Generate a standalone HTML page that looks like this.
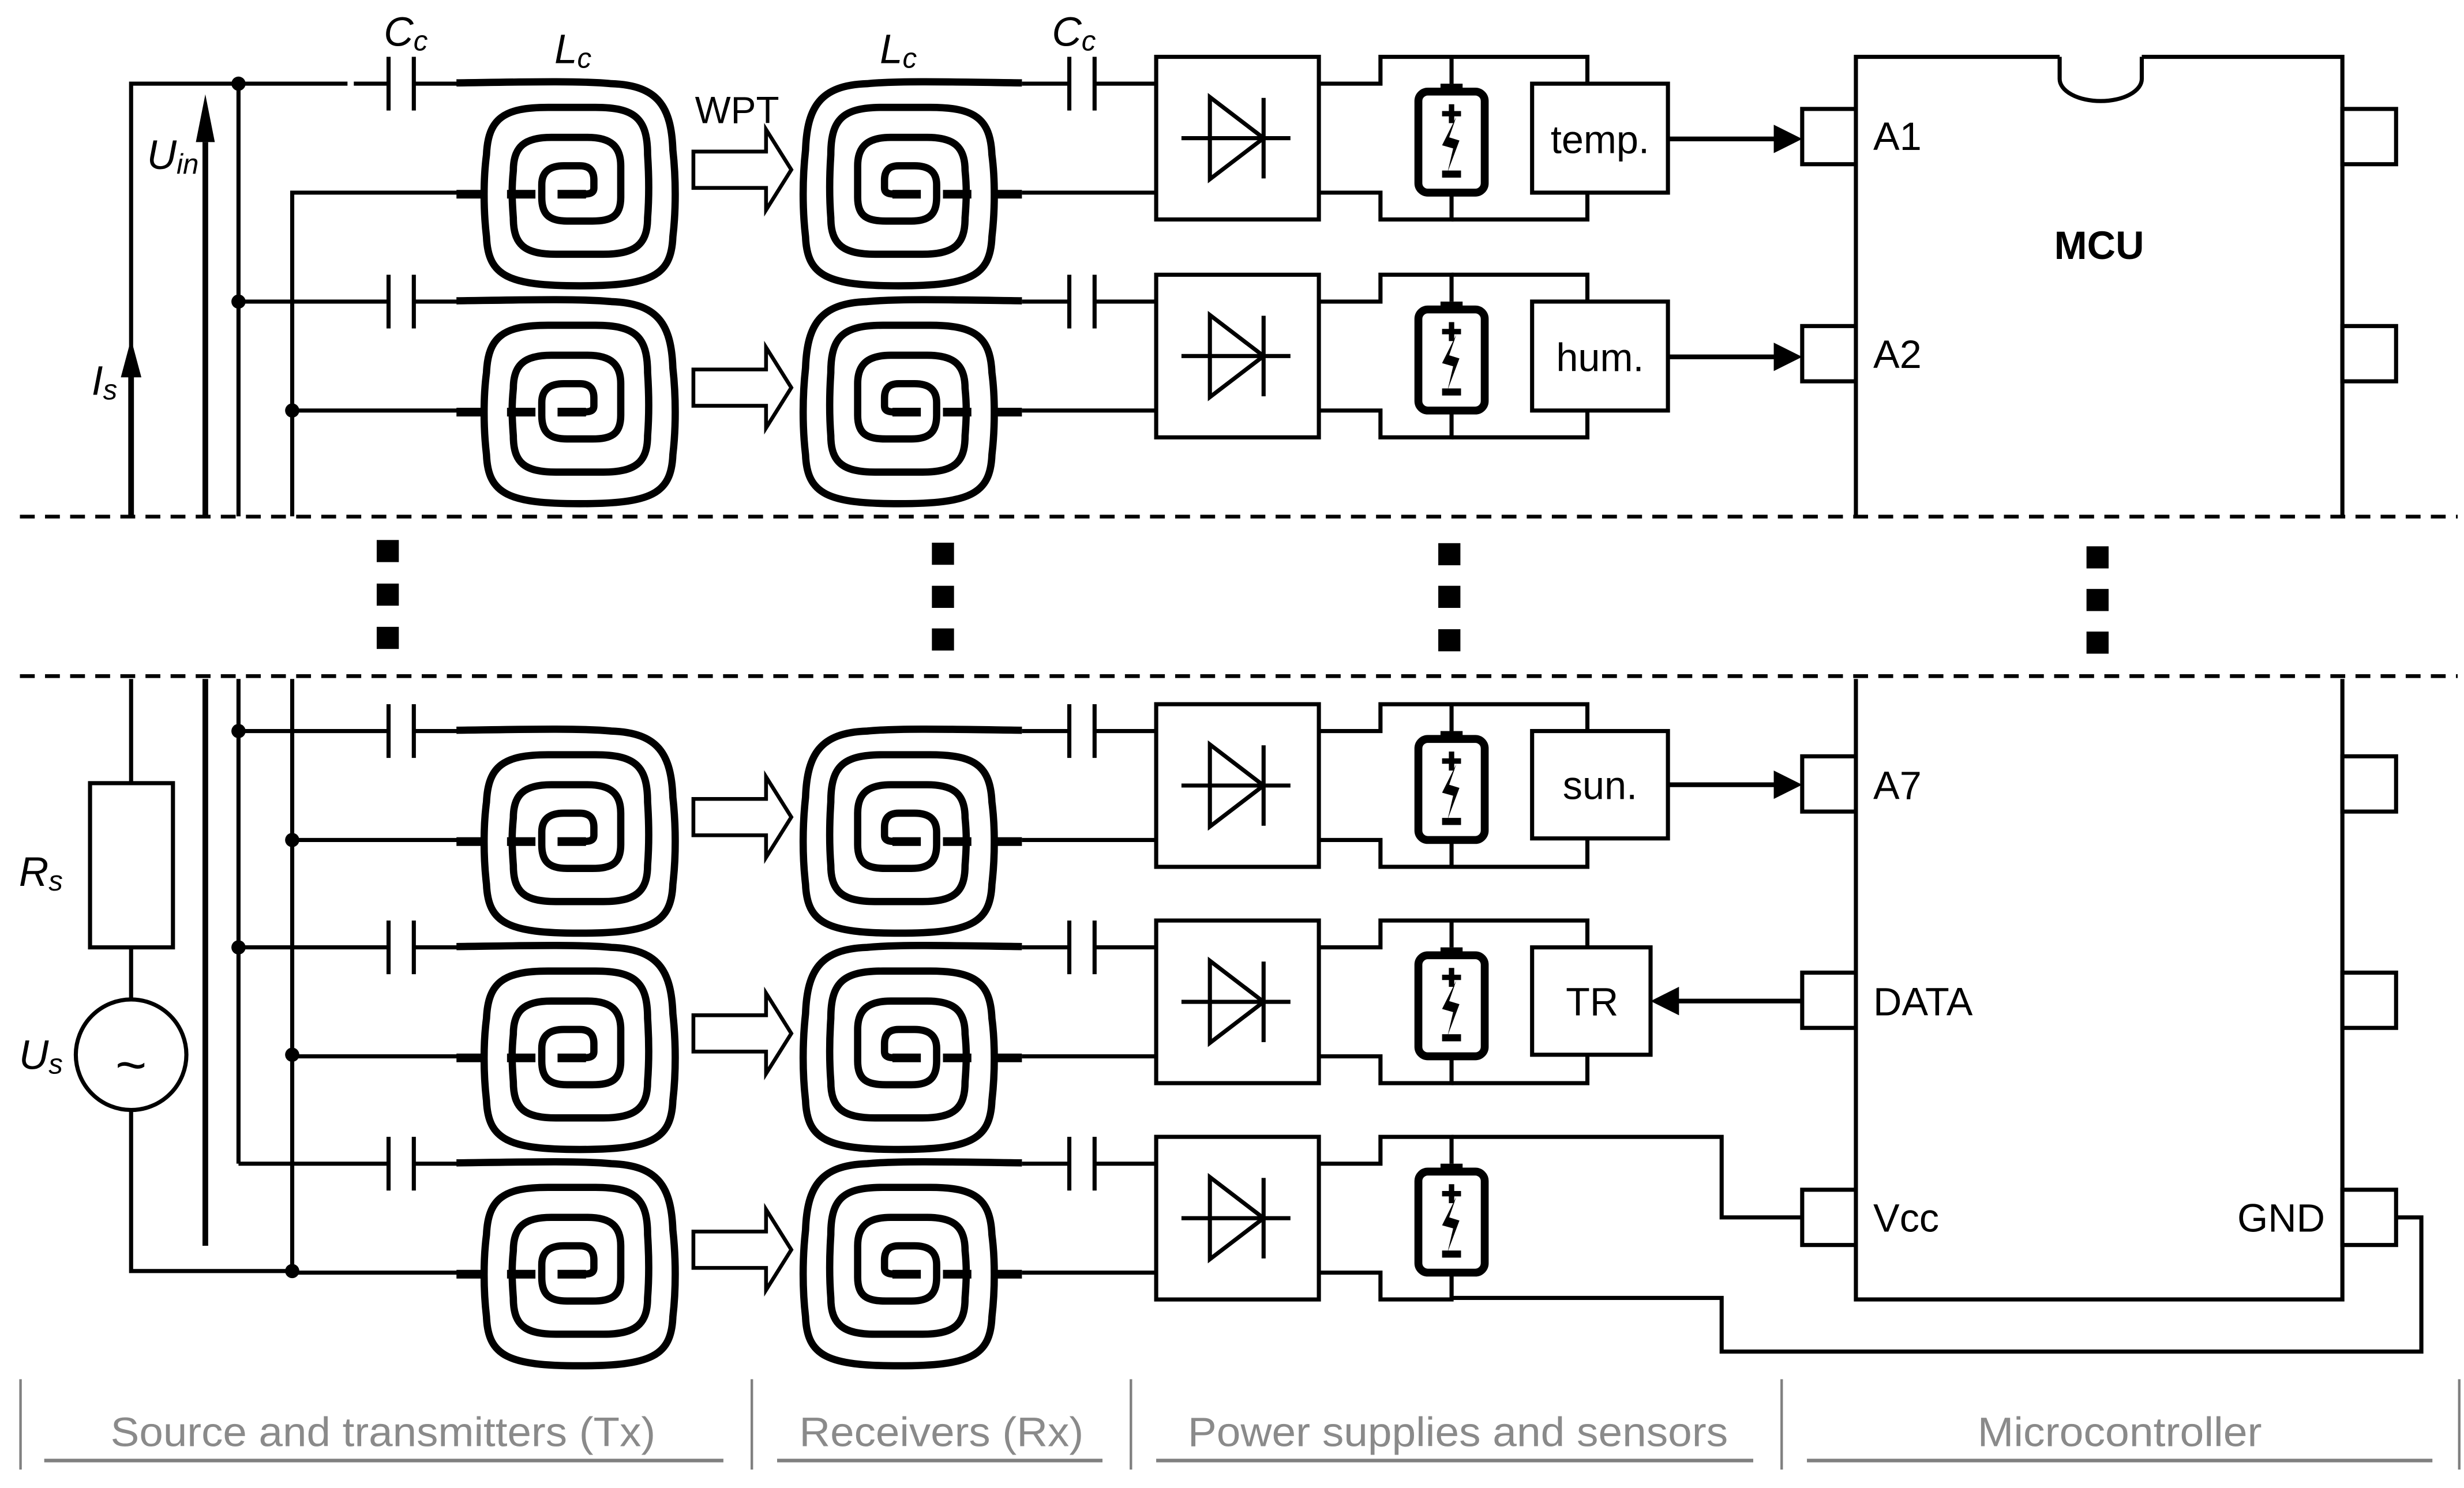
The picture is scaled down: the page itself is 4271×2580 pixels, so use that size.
<!DOCTYPE html>
<html><head><meta charset="utf-8"><style>html,body{margin:0;padding:0;background:#fff}svg{display:block}</style></head><body>
<svg xmlns="http://www.w3.org/2000/svg" width="4271" height="2580" viewBox="0 0 1560 942.4" preserveAspectRatio="none" font-family="Liberation Sans, Arial, sans-serif">
<defs>
<g id="coil" fill="none" stroke="#000" stroke-width="4.6" stroke-linecap="butt">
<path d="M-78,-0.5 C-40,-1 0,-2 20,0 C50,1 58,15 59,42 C61,60 61,80 59,97 C58,122 45,128 0,128 C-45,128 -58,122 -59,97 C-61,80 -61,60 -59,45 C-58,22 -48,15 -20,15 L10,15 C35,15 43,22 43,45 C44,60 44,72 43,85 C43,102 35,108 15,108 L-15,108 C-35,108 -42,102 -42,85 C-43,72 -43,65 -42,55 C-42,40 -35,34 -18,34 L5,34 C20,34 26,40 26,52 L26,72 C26,84 20,87 8,87 L-8,87 C-20,87 -24,82 -24,72 L-24,64 C-24,55 -18,52 -10,52 L0,52 C7,52 9,56 9,61 L9,66 C9,70 5,70 0,70 L-5,70"/>
<path d="M-14,70 H4 M-46,70 H-28 M-78,70 H-61" stroke-width="5.5"/>
</g>
<g id="row" fill="none" stroke="#000" stroke-width="2.6">
<path d="M151,0 H246 M262,0 H290 M185,69 H290"/>
<path d="M246,-17 V17 M262,-17 V17 M677,-17 V17 M693,-17 V17"/>
<use href="#coil" transform="translate(367,0)"/>
<use href="#coil" transform="translate(569,0) scale(-1,1)"/>
<polygon points="439,43 485,43 485,29 501,54.5 485,80 485,66 439,66" fill="#fff" stroke-width="2.4"/>
<path d="M647,0 H677 M693,0 H732 M647,69 H732"/>
<rect x="732" y="-17" width="103" height="103" fill="#fff"/>
<path d="M748,34.5 H817 M800,9 V60"/>
<polygon points="766,8.5 766,60.5 800,34.5"/>
<path d="M835,0 H874 V-17 H919 V0 M835,69 H874 V86 H919 V69"/>
<rect x="912" y="0" width="14" height="6" fill="#000" stroke="none"/>
<rect x="898" y="5" width="42" height="64" rx="6" stroke-width="5"/>
<path d="M913,19 H925 M919,13 V25" stroke-width="3.4"/>
<rect x="913" y="55" width="12" height="4.5" fill="#000" stroke="none"/>
<polygon points="922,21 913,39 920,41 916.5,56 924,36 917.5,34" fill="#000" stroke="none"/>
</g>
<g id="sens" fill="none" stroke="#000" stroke-width="2.6">
<path d="M919,-17 H1005 V0 M919,86 H1005 V69"/>
</g>
</defs>
<rect width="1560" height="942.4" fill="#fff"/>
<g stroke="#000" stroke-width="2.4" stroke-dasharray="9.4 6.5" fill="none">
<path d="M12.6,327.2 H1556"/>
<path d="M12.6,428.2 H1556"/>
</g>
<use href="#row" transform="translate(0,53)"/>
<use href="#row" transform="translate(0,191)"/>
<use href="#row" transform="translate(0,463)"/>
<use href="#row" transform="translate(0,600)"/>
<use href="#row" transform="translate(0,737)"/>
<use href="#sens" transform="translate(0,53)"/>
<use href="#sens" transform="translate(0,191)"/>
<use href="#sens" transform="translate(0,463)"/>
<use href="#sens" transform="translate(0,600)"/>
<g fill="#fff" stroke="#000" stroke-width="2.6">
<path d="M220,53 H224" stroke="#fff" stroke-width="4"/>
<path d="M83,327 V53 H151 M151,53 V327 M185,327 V122 H290" fill="none"/>
<path d="M151,430 V737 M185,430 V805 M83,430 V496 M83,600 V633 M83,703 V805 H185" fill="none"/>
<rect x="57" y="496" width="52.5" height="104"/>
<circle cx="83" cy="668" r="35"/>
<path d="M130,90 V327 M130,430 V789" stroke-width="3.6" fill="none"/>
<path d="M83,238 V327" stroke-width="3.6" fill="none"/>
<rect x="970" y="53" width="86" height="69"/>
<rect x="970" y="191" width="86" height="69"/>
<rect x="970" y="463" width="86" height="68"/>
<rect x="970" y="600" width="75" height="68"/>
<path d="M919,720 H1090 V771 H1141 M919,806 V822 H1090 V856 H1533 V771 H1517" fill="none"/>
<path d="M1175,327 V36 H1304 M1356,36 H1483 V327 M1304,36 V50 A26,14 0 0 0 1356,50 V36 M1175,430 V823 H1483 V430" fill="none"/>
<rect x="1141" y="69" width="34" height="35"/><rect x="1141" y="206.5" width="34" height="35"/>
<rect x="1141" y="479" width="34" height="35"/><rect x="1141" y="616" width="34" height="35"/><rect x="1141" y="753.5" width="34" height="35"/>
<rect x="1483" y="69" width="34" height="35"/><rect x="1483" y="206.5" width="34" height="35"/>
<rect x="1483" y="479" width="34" height="35"/><rect x="1483" y="616" width="34" height="35"/><rect x="1483" y="753.5" width="34" height="35"/>
<path d="M1056,88 H1125 M1056,226 H1125 M1056,497 H1125 M1141,634 H1061" stroke-width="3" fill="none"/>
</g>
<g fill="#000">
<polygon points="130,59.7 124,90 136,90"/>
<polygon points="83,214.7 76.5,239 89.5,239"/>
<polygon points="1123,79 1141,88 1123,97"/><polygon points="1123,217 1141,226 1123,235"/>
<polygon points="1123,488 1141,497 1123,506"/><polygon points="1063,625 1045,634 1063,643"/>
<circle cx="151" cy="53" r="4.5"/><circle cx="151" cy="191" r="4.5"/><circle cx="151" cy="463" r="4.5"/><circle cx="151" cy="600" r="4.5"/>
<circle cx="185" cy="260" r="4.5"/><circle cx="185" cy="532" r="4.5"/><circle cx="185" cy="668" r="4.5"/><circle cx="185" cy="805" r="4.5"/>
<rect x="238.5" y="342" width="14" height="14"/><rect x="238.5" y="369.6" width="14" height="14"/><rect x="238.5" y="397" width="14" height="14"/>
<rect x="590" y="343.7" width="14" height="14"/><rect x="590" y="371" width="14" height="14"/><rect x="590" y="398" width="14" height="14"/>
<rect x="910.6" y="344" width="14" height="14"/><rect x="910.6" y="371" width="14" height="14"/><rect x="910.6" y="398.5" width="14" height="14"/>
<rect x="1321" y="346" width="14" height="14"/><rect x="1321" y="373" width="14" height="14"/><rect x="1321" y="400" width="14" height="14"/>
</g>
<g fill="#000" font-size="26">
<text x="243" y="29" font-style="italic">C<tspan font-size="18" dy="3">c</tspan></text>
<text x="666" y="29" font-style="italic">C<tspan font-size="18" dy="3">c</tspan></text>
<text x="351" y="40" font-style="italic">L<tspan font-size="18" dy="3">c</tspan></text>
<text x="557" y="40" font-style="italic">L<tspan font-size="18" dy="3">c</tspan></text>
<text x="440" y="78" font-size="24">WPT</text>
<text x="93" y="107" font-style="italic">U<tspan font-size="18" dy="3">in</tspan></text>
<text x="58" y="250" font-style="italic">I<tspan font-size="18" dy="3">s</tspan></text>
<text x="12" y="561" font-style="italic">R<tspan font-size="18" dy="3">s</tspan></text>
<text x="12" y="677" font-style="italic">U<tspan font-size="18" dy="3">s</tspan></text>
<text x="83" y="686" font-size="34" text-anchor="middle">~</text>
<text x="1013" y="97" font-size="25" text-anchor="middle">temp.</text>
<text x="1013" y="235" font-size="25" text-anchor="middle">hum.</text>
<text x="1013" y="506" font-size="25" text-anchor="middle">sun.</text>
<text x="1008" y="643" font-size="25" text-anchor="middle">TR</text>
<text x="1329" y="164" font-size="25" font-weight="bold" text-anchor="middle">MCU</text>
<text x="1186" y="95" font-size="25">A1</text>
<text x="1186" y="233" font-size="25">A2</text>
<text x="1186" y="506" font-size="25">A7</text>
<text x="1186" y="643" font-size="25">DATA</text>
<text x="1186" y="780" font-size="25">Vcc</text>
<text x="1472" y="780" font-size="25" text-anchor="end">GND</text>
</g>
<g stroke="#808080" fill="none">
<path d="M13,873.5 V930.7 M476,873.5 V930.7 M716,873.5 V930.7 M1128,873.5 V930.7 M1557,873.5 V930.7" stroke-width="1.6"/>
<path d="M28,925 H458 M492,925 H698 M732,925 H1110 M1144,925 H1540" stroke-width="2.3"/>
</g>
<g fill="#8a8a8a" font-size="26">
<text x="70" y="916" textLength="345" lengthAdjust="spacingAndGlyphs">Source and transmitters (Tx)</text>
<text x="506" y="916" textLength="180" lengthAdjust="spacingAndGlyphs">Receivers (Rx)</text>
<text x="752" y="916" textLength="342" lengthAdjust="spacingAndGlyphs">Power supplies and sensors</text>
<text x="1252" y="916" textLength="180" lengthAdjust="spacingAndGlyphs">Microcontroller</text>
</g>
</svg>
</body></html>
